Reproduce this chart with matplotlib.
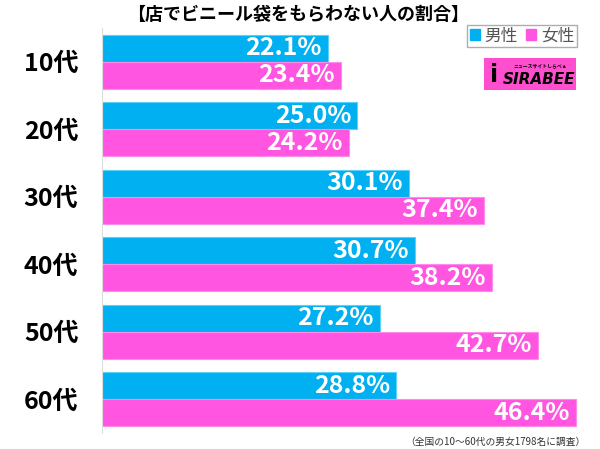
import numpy as np
import matplotlib.pyplot as plt
from matplotlib.patches import Patch, Rectangle

plt.rcParams['font.family'] = ['Noto Sans CJK JP', 'DejaVu Sans']

ages = ['10代', '20代', '30代', '40代', '50代', '60代']
male = [22.1, 25.0, 30.1, 30.7, 27.2, 28.8]
female = [23.4, 24.2, 37.4, 38.2, 42.7, 46.4]

c_male = '#00b0f0'
c_female = '#ff55e1'

fig = plt.figure(figsize=(6, 4.49), dpi=100)
ax = fig.add_axes([102/600, 1 - 433/449, 490/600, (433 - 28)/449])

y = np.arange(len(ages))
h = 0.4
ax.barh(y - h/2, male, h, color=c_male, edgecolor='#5fd0f7', linewidth=0.8)
ax.barh(y + h/2, female, h, color=c_female, edgecolor='#ff8cec', linewidth=0.8)

for i in range(len(ages)):
    ax.text(male[i] - 0.6, y[i] - h/2, '%.1f%%' % male[i], ha='right', va='center',
            color='white', fontsize=18, fontweight='bold')
    ax.text(female[i] - 0.6, y[i] + h/2, '%.1f%%' % female[i], ha='right', va='center',
            color='white', fontsize=18, fontweight='bold')

ax.set_xlim(0, 48)
ax.set_ylim(5.5, -0.5)
ax.set_yticks(y)
ax.set_yticklabels(ages, fontsize=18, fontweight='bold')
ax.tick_params(axis='y', length=0, pad=17)
ax.set_xticks([])
for s in ['top', 'right', 'bottom']:
    ax.spines[s].set_visible(False)
ax.spines['left'].set_color('#dddddd')

fig.text(0.496, 1 - 14/449, '【店でビニール袋をもらわない人の割合】', ha='center', va='center',
         fontsize=13, fontweight='bold')

handles = [Patch(color=c_male, label='男性'), Patch(color=c_female, label='女性')]
leg = fig.legend(handles=handles, loc='upper right', bbox_to_anchor=(577/600, 1 - 25/449),
                 ncol=2, fontsize=12, frameon=True, fancybox=False, borderpad=0.15,
                 handlelength=0.6, handleheight=0.6, handletextpad=0.3, columnspacing=0.5,
                 borderaxespad=0)
leg.get_frame().set_edgecolor('#999999')
for t in leg.get_texts():
    t.set_color('#555555')

# logo
fig.patches.append(Rectangle((484/600, 1 - 90/449), 92/600, 32/449, transform=fig.transFigure,
                             facecolor='#ff4fcf', edgecolor='none'))
fig.text(540/600, 1 - 66/449, 'ニュースサイトしらべぇ', ha='center', va='center', fontsize=3.5,
         color='black', fontweight='bold')
fig.text(539/600, 1 - 80/449, 'SIRABEE', ha='center', va='center', fontsize=11,
         color='black', fontweight='bold', style='italic', family='DejaVu Sans')
fig.text(494/600, 1 - 75/449, 'i', ha='center', va='center', fontsize=17,
         color='black', fontweight='bold', family='DejaVu Sans')

fig.text(586/600, 1 - 442/449, '（全国の10〜60代の男女1798名に調査）', ha='right', va='center',
         fontsize=7, color='#333333')

plt.savefig('out.png', dpi=100)
